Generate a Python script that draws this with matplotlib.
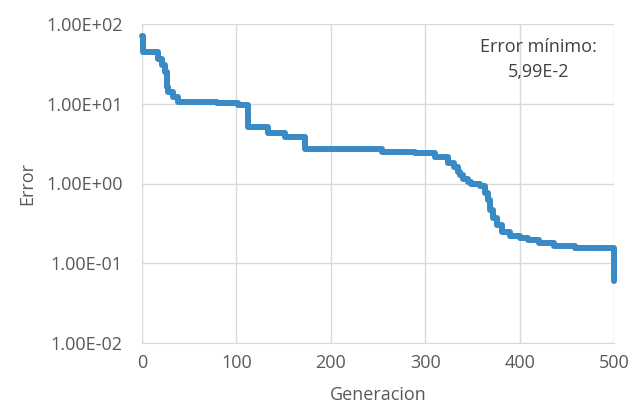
import matplotlib
matplotlib.use('Agg')
import matplotlib.pyplot as plt
from matplotlib.ticker import FuncFormatter, FixedLocator

# Best error per generation (step changes)
generations = [0, 1, 17, 21, 24, 26, 28, 33, 38, 79,
               102, 112, 134, 151, 173, 254, 289, 310, 324, 331,
               335, 337, 340, 345, 349, 358, 363, 366, 369, 372,
               376, 381, 390, 400, 409, 421, 436, 459, 499, 500]
errors = [70, 45, 36, 31, 25, 16, 14, 12, 10.6, 10.2,
          9.7, 5.1, 4.3, 3.8, 2.7, 2.5, 2.4, 2.15, 1.8, 1.6,
          1.4, 1.28, 1.14, 1.05, 1.0, 0.93, 0.76, 0.63, 0.47, 0.37,
          0.30, 0.245, 0.22, 0.21, 0.195, 0.18, 0.165, 0.155, 0.155, 0.0599]

x_ticks = [0, 100, 200, 300, 400, 500]
y_ticks = [1e-2, 1e-1, 1e0, 1e1, 1e2]
annotation = 'Error mínimo:\n5,99E-2'

plt.rcParams['font.family'] = ['Open Sans', 'DejaVu Sans']
text_color = '#595959'
grid_color = '#D9D9D9'

fig = plt.figure(figsize=(6.32, 4.04), dpi=100)
ax = fig.add_axes([142 / 632, 1 - 343 / 404, 472 / 632, 319 / 404])

ax.plot(generations, errors, drawstyle='steps-post', color='#3A8AC6',
        linewidth=4.3, solid_capstyle='round', solid_joinstyle='round',
        clip_on=False)

ax.set_yscale('log')
ax.set_ylim(1e-2, 1e2)
ax.set_xlim(0, 500)
ax.yaxis.set_major_locator(FixedLocator(y_ticks))
ax.yaxis.set_minor_locator(FixedLocator([]))
ax.set_xticks(x_ticks)
ax.yaxis.set_major_formatter(FuncFormatter(lambda v, p: f'{v:.2E}'))

ax.grid(True, color=grid_color, linewidth=1.0)
ax.set_axisbelow(True)
for s in ['top', 'right', 'left']:
    ax.spines[s].set_visible(False)
ax.spines['bottom'].set_color(grid_color)
ax.tick_params(axis='y', length=0, labelsize=13, colors=text_color, pad=14)
ax.tick_params(axis='x', length=0, labelsize=13, colors=text_color, pad=8)

ax.set_xlabel('Generacion', fontsize=13, color=text_color, labelpad=10)
ax.set_ylabel('Error', fontsize=13, color=text_color, labelpad=7)

ax.text(0.84, 0.955, annotation, transform=ax.transAxes, ha='center', va='top',
        fontsize=13, color='#404040', linespacing=1.45)

fig.savefig('out.png', dpi=100)
